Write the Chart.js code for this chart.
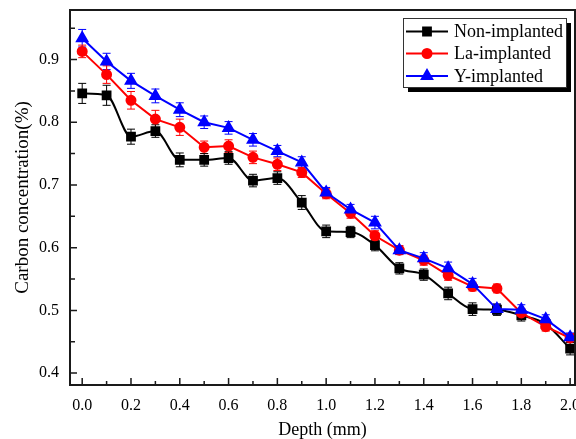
<!DOCTYPE html>
<html>
<head>
<meta charset="utf-8">
<script src="https://cdn.jsdelivr.net/npm/chart.js@4/dist/chart.umd.min.js"></script>
<style>
  html, body { margin: 0; padding: 0; background: #fff; }
  #wrap { width: 576px; height: 439px; }
</style>
</head>
<body>
<div id="wrap"><canvas id="myChart" width="576" height="439"></canvas></div>
<script>
// depth (mm) of each measurement
const depth = [0.0, 0.1, 0.2, 0.3, 0.4, 0.5, 0.6, 0.7, 0.8, 0.9, 1.0,
               1.1, 1.2, 1.3, 1.4, 1.5, 1.6, 1.7, 1.8, 1.9, 2.0];

// carbon concentration (%) per series
const nonImplanted = [0.846, 0.843, 0.777, 0.786, 0.740, 0.740, 0.743, 0.707, 0.711, 0.672, 0.626,
                      0.625, 0.604, 0.567, 0.557, 0.527, 0.502, 0.501, 0.492, 0.478, 0.439];
const laImplanted  = [0.913, 0.876, 0.835, 0.805, 0.792, 0.760, 0.762, 0.744, 0.733, 0.720, 0.686,
                      0.655, 0.619, 0.596, 0.580, 0.556, 0.538, 0.535, 0.496, 0.474, 0.456];
const yImplanted   = [0.934, 0.897, 0.866, 0.842, 0.820, 0.800, 0.791, 0.772, 0.754, 0.736, 0.688,
                      0.661, 0.640, 0.596, 0.583, 0.567, 0.542, 0.502, 0.501, 0.486, 0.457];

// error bar half widths
const nonErr = [0.016, 0.016, 0.012, 0.010, 0.011, 0.010, 0.010, 0.010, 0.010, 0.011, 0.010,
                0.009, 0.009, 0.009, 0.009, 0.010, 0.010, 0.009, 0.009, 0.009, 0.010];
const laErr  = [0.010, 0.014, 0.014, 0.014, 0.013, 0.010, 0.010, 0.010, 0.010, 0.008, 0.008,
                0.008, 0.008, 0.007, 0.008, 0.008, 0.007, 0.007, 0.007, 0.007, 0.007];
const yErr   = [0.014, 0.013, 0.012, 0.011, 0.011, 0.010, 0.010, 0.010, 0.009, 0.009, 0.008,
                0.008, 0.010, 0.007, 0.009, 0.010, 0.009, 0.008, 0.008, 0.007, 0.007];

// axis tick labels
const xTicks = [0.0, 0.2, 0.4, 0.6, 0.8, 1.0, 1.2, 1.4, 1.6, 1.8, 2.0];
const yTicks = [0.4, 0.5, 0.6, 0.7, 0.8, 0.9];

const serif = "'Liberation Serif', 'Times New Roman', serif";
Chart.defaults.font.family = serif;
Chart.defaults.color = "#000";

function toPoints(ys, errs) {
  return depth.map((x, i) => ({ x: x, y: ys[i], err: errs[i] }));
}

// error bars, frame, inward ticks and the boxed legend
const extras = {
  id: "extras",
  beforeDatasetsDraw(chart) {
    const ctx = chart.ctx;
    const xs = chart.scales.x, ys = chart.scales.y;
    ctx.save();
    chart.data.datasets.forEach((ds) => {
      ctx.strokeStyle = ds.borderColor;
      ctx.lineWidth = 1;
      ds.data.forEach((p) => {
        const px = xs.getPixelForValue(p.x);
        const top = ys.getPixelForValue(p.y + p.err);
        const bot = ys.getPixelForValue(p.y - p.err);
        ctx.beginPath();
        ctx.moveTo(px, top); ctx.lineTo(px, bot);
        ctx.moveTo(px - 4, top); ctx.lineTo(px + 4, top);
        ctx.moveTo(px - 4, bot); ctx.lineTo(px + 4, bot);
        ctx.stroke();
      });
    });
    ctx.restore();
  },
  afterDraw(chart) {
    const ctx = chart.ctx;
    const a = chart.chartArea;
    const xs = chart.scales.x, ys = chart.scales.y;
    ctx.save();
    ctx.strokeStyle = "#1a1a1a";
    ctx.lineWidth = 2;
    ctx.strokeRect(a.left, a.top, a.right - a.left, a.bottom - a.top);

    // inward ticks
    ctx.beginPath();
    xTicks.forEach((v, i) => {
      const px = xs.getPixelForValue(v);
      ctx.moveTo(px, a.bottom); ctx.lineTo(px, a.bottom - 7);
      if (i < xTicks.length - 1) {
        const mx = xs.getPixelForValue((v + xTicks[i + 1]) / 2);
        ctx.moveTo(mx, a.bottom); ctx.lineTo(mx, a.bottom - 4);
      }
    });
    yTicks.forEach((v) => {
      const py = ys.getPixelForValue(v);
      ctx.moveTo(a.left, py); ctx.lineTo(a.left + 7, py);
      const my = ys.getPixelForValue(v + 0.05);
      if (my > a.top) { ctx.moveTo(a.left, my); ctx.lineTo(a.left + 5, my); }
    });
    ctx.lineWidth = 1.5;
    ctx.stroke();

    // legend
    const bx = 403, by = 18, bw = 163, bh = 69;
    ctx.fillStyle = "#000";
    ctx.fillRect(bx + 5, by + 5, bw, bh);
    ctx.fillStyle = "#fff";
    ctx.fillRect(bx, by, bw, bh);
    ctx.strokeStyle = "#333";
    ctx.lineWidth = 1;
    ctx.strokeRect(bx + 0.5, by + 0.5, bw, bh);
    const rows = [31.5, 53.5, 76];
    const legendOrder = [2, 1, 0];
    ctx.font = "18px " + serif;
    ctx.textBaseline = "middle";
    ctx.textAlign = "left";
    legendOrder.forEach((di, r) => {
      const ds = chart.data.datasets[di];
      const y = rows[r];
      ctx.strokeStyle = ds.borderColor;
      ctx.lineWidth = 2;
      ctx.beginPath();
      ctx.moveTo(406, y); ctx.lineTo(448, y);
      ctx.stroke();
      ctx.fillStyle = ds.borderColor;
      Chart.helpers.drawPoint(ctx, {
        pointStyle: ds.pointStyle, radius: ds.pointRadius, borderWidth: 1, rotation: 0
      }, 427, y);
      ctx.fillStyle = "#000";
      ctx.fillText(ds.label, 454, y + 1);
    });
    ctx.restore();
  }
};

const ctx = document.getElementById("myChart").getContext("2d");
new Chart(ctx, {
  type: "line",
  data: {
    datasets: [
      {
        label: "Y-implanted",
        data: toPoints(yImplanted, yErr),
        borderColor: "#0000ff",
        backgroundColor: "#0000ff",
        borderWidth: 2,
        pointStyle: "triangle",
        pointRadius: 6,
        tension: 0,
        order: 0
      },
      {
        label: "La-implanted",
        data: toPoints(laImplanted, laErr),
        borderColor: "#ff0000",
        backgroundColor: "#ff0000",
        borderWidth: 2,
        pointStyle: "circle",
        pointRadius: 4.5,
        tension: 0,
        order: 1
      },
      {
        label: "Non-implanted",
        data: toPoints(nonImplanted, nonErr),
        borderColor: "#000000",
        backgroundColor: "#000000",
        borderWidth: 2,
        pointStyle: "rect",
        pointRadius: 5.5,
        cubicInterpolationMode: "monotone",
        order: 2
      }
    ]
  },
  options: {
    responsive: false,
    animation: false,
    layout: { autoPadding: false, padding: { left: 0, top: 10, right: 1, bottom: 0 } },
    plugins: {
      legend: { display: false },
      tooltip: { enabled: false }
    },
    scales: {
      x: {
        type: "linear",
        min: -0.05,
        max: 2.02,
        afterFit: (s) => { s.height = 54; s.paddingLeft = 0; s.paddingRight = 0; },
        afterBuildTicks: (s) => { s.ticks = xTicks.map((v) => ({ value: v })); },
        grid: { display: false, drawTicks: false },
        border: { display: false },
        ticks: {
          padding: 11,
          font: { size: 16 },
          callback: (v) => v.toFixed(1)
        },
        title: {
          display: true,
          text: "Depth (mm)",
          font: { size: 18, lineHeight: 1 },
          padding: { top: 0, bottom: 0 }
        }
      },
      y: {
        type: "linear",
        min: 0.381,
        max: 0.979,
        afterFit: (s) => { s.width = 70; s.paddingTop = 0; s.paddingBottom = 0; },
        afterBuildTicks: (s) => { s.ticks = yTicks.map((v) => ({ value: v })); },
        grid: { display: false, drawTicks: false },
        border: { display: false },
        ticks: {
          padding: 11,
          font: { size: 16 },
          callback: (v) => v.toFixed(1)
        },
        title: {
          display: true,
          text: "Carbon concentration(%)",
          font: { size: 19, lineHeight: 1 },
          padding: { top: 14, bottom: 0 }
        }
      }
    }
  },
  plugins: [extras]
});
</script>
</body>
</html>
